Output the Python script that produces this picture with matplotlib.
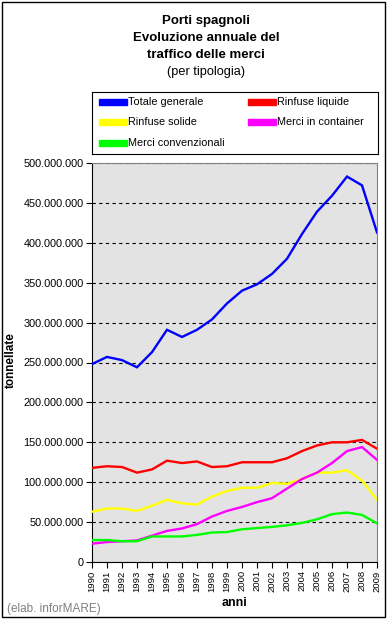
import matplotlib
matplotlib.use('Agg')
import matplotlib.pyplot as plt
from matplotlib.ticker import FuncFormatter, MultipleLocator
from matplotlib.patches import Rectangle

plt.rcParams['font.family'] = ['Liberation Sans', 'DejaVu Sans']

anni = list(range(1990, 2010))

# milioni di tonnellate
totale = [248, 257, 253, 244, 263, 291, 282, 291, 304, 324,
          340, 348, 361, 380, 411, 439, 459, 483, 472, 413]
liquide = [118, 120, 119, 112, 116, 127, 124, 126, 119, 120,
           125, 125, 125, 130, 139, 146, 150, 150, 153, 142]
solide = [63, 67, 67, 64, 70.5, 78, 73.5, 72, 82, 89,
          93, 93, 99, 98, 104, 112, 112, 115, 102, 78]
container = [23, 25, 26, 27, 33, 39, 42, 47.5, 57, 64,
             69, 75, 80, 92, 104, 112, 124, 139, 144, 128]
convenzionali = [27.5, 27.5, 26, 26, 32, 32, 32, 34, 37, 37.5,
                 41, 42.5, 44, 46, 49, 53.5, 60, 62, 59, 48.5]

serie = [
    ('Totale generale', totale, '#0000FF'),
    ('Rinfuse liquide', liquide, '#FF0000'),
    ('Rinfuse solide', solide, '#FFFF00'),
    ('Merci in container', container, '#FF00FF'),
    ('Merci convenzionali', convenzionali, '#00FF00'),
]

W, H = 387, 619
fig = plt.figure(figsize=(W / 100, H / 100), dpi=100)

# cornice esterna
fig.patches.append(Rectangle((1.5 / W, 2.5 / H), (W - 4) / W, (H - 4) / H,
                             transform=fig.transFigure, fill=False,
                             edgecolor='black', lw=1.0))

ax = fig.add_axes([92 / W, (H - 562) / H, 285 / W, 399 / H])
ax.set_facecolor('#E3E3E3')

for nome, valori, col in serie:
    ax.plot(anni, [v * 1e6 for v in valori], color=col, lw=1.7,
            solid_joinstyle='miter', zorder=3)

ax.set_xlim(1990, 2009)
ax.set_ylim(0, 500e6)
ax.yaxis.set_major_locator(MultipleLocator(50e6))
ax.yaxis.set_major_formatter(FuncFormatter(
    lambda v, p: '{:,.0f}'.format(v).replace(',', '.')))
ax.set_xticks(anni)
ax.set_xticklabels([str(a) for a in anni], rotation=90, fontsize=6.8)
ax.tick_params(axis='y', labelsize=7.8, length=4, width=0.8, pad=2)
ax.tick_params(axis='x', length=4, width=0.8, pad=2)

ax.grid(axis='y', color='black', linestyle=(0, (3, 3)), lw=0.8)
ax.set_axisbelow(True)
for s in ['top', 'right']:
    ax.spines[s].set_color('#808080')
for s in ['left', 'bottom']:
    ax.spines[s].set_color('black')

ax.set_ylabel('tonnellate', fontsize=8.5, fontweight='bold')
ax.yaxis.set_label_coords(-0.262, 0.505)
ax.set_xlabel('anni', fontsize=9, fontweight='bold', labelpad=4)

# titolo
fig.text(206 / W, 1 - 21 / H, 'Porti spagnoli', ha='center', va='center',
         fontsize=9.5, fontweight='bold')
fig.text(206 / W, 1 - 38 / H, 'Evoluzione annuale del', ha='center',
         va='center', fontsize=9.5, fontweight='bold')
fig.text(206 / W, 1 - 55 / H, 'traffico delle merci', ha='center',
         va='center', fontsize=9.5, fontweight='bold')
fig.text(206 / W, 1 - 72 / H, '(per tipologia)', ha='center', va='center',
         fontsize=9.2)

# legenda
lax = fig.add_axes([92 / W, (H - 154) / H, 286 / W, 62 / H])
lax.set_xlim(0, 286)
lax.set_ylim(62, 0)
lax.set_xticks([])
lax.set_yticks([])
for s in lax.spines.values():
    s.set_color('black')
    s.set_linewidth(0.8)
pos = [(7, 10), (156, 10), (7, 30), (156, 30), (7, 51)]
for (nome, valori, col), (x0, y0) in zip(serie, pos):
    lax.add_patch(Rectangle((x0, y0 - 3), 28, 6, color=col))
    lax.text(x0 + 29, y0, nome, va='center', ha='left', fontsize=7.8)

fig.text(7 / W, 1 - 609 / H, '(elab. inforMARE)', ha='left', va='center',
         fontsize=8.5, color='#808080')

fig.savefig('out.png', dpi=100)
